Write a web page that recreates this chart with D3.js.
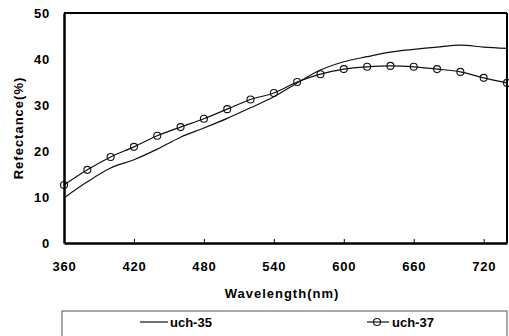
<!DOCTYPE html>
<html>
<head>
<meta charset="utf-8">
<title>Reflectance</title>
<style>
  body { margin: 0; background: #fff; }
  text { font-family: "Liberation Sans", Arial, sans-serif; font-weight: bold; fill: #000; }
</style>
<script src="https://d3js.org/d3.v7.min.js"></script>
</head>
<body>
<svg id="chart" width="509" height="336"></svg>
<script>
// wavelength samples (nm)
var wavelengths = [360, 380, 400, 420, 440, 460, 480, 500, 520, 540, 560, 580, 600, 620, 640, 660, 680, 700, 720, 740];
// uch-35 (plain line)
var uch35 = [9.8, 13.3, 16.3, 18.1, 20.4, 23.0, 25.0, 27.1, 29.4, 31.8, 34.8, 37.6, 39.4, 40.5, 41.5, 42.1, 42.6, 43.0, 42.6, 42.3];
// uch-37 (line with circles)
var uch37 = [12.6, 15.9, 18.7, 20.9, 23.3, 25.2, 27.0, 29.1, 31.2, 32.6, 35.0, 36.7, 37.8, 38.3, 38.5, 38.3, 37.8, 37.2, 35.9, 34.8];
var xTicks = [360, 420, 480, 540, 600, 660, 720];
var yTicks = [0, 10, 20, 30, 40, 50];

var svg = d3.select("#chart");
var x = d3.scaleLinear().domain([360, 740]).range([64, 507]);
var y = d3.scaleLinear().domain([0, 50]).range([243, 13]);

var line35 = d3.line().x(function(d, i){ return x(wavelengths[i]); }).y(function(d){ return y(d); }).curve(d3.curveMonotoneX);

// data lines
svg.append("path").attr("d", line35(uch35))
  .attr("fill", "none").attr("stroke", "#111").attr("stroke-width", 1.2);
svg.append("path").attr("d", line35(uch37))
  .attr("fill", "none").attr("stroke", "#111").attr("stroke-width", 1.2);
svg.selectAll("circle.m").data(uch37).enter().append("circle")
  .attr("class", "m")
  .attr("cx", function(d, i){ return x(wavelengths[i]); })
  .attr("cy", function(d){ return y(d); })
  .attr("r", 3.5)
  .attr("fill", "none").attr("stroke", "#111").attr("stroke-width", 1.1);

// frame
svg.append("line").attr("x1", 64).attr("x2", 507).attr("y1", 13).attr("y2", 13)
  .attr("stroke", "#000").attr("stroke-width", 2);
svg.append("line").attr("x1", 507).attr("x2", 507).attr("y1", 13).attr("y2", 243)
  .attr("stroke", "#000").attr("stroke-width", 2);

// axes
var gx = svg.append("g").attr("transform", "translate(0,243)")
  .call(d3.axisBottom(x).tickValues(xTicks).tickSize(-4).tickSizeOuter(0).tickPadding(19));
gx.select(".domain").attr("stroke-width", 2.5);
gx.selectAll("text").attr("font-size", 13).attr("letter-spacing", 0.8).attr("dy", "0.71em")
  .style("font-family", '"Liberation Sans", Arial, sans-serif').style("font-weight", "bold");

var gy = svg.append("g").attr("transform", "translate(64,0)")
  .call(d3.axisLeft(y).tickValues(yTicks).tickSize(0).tickSizeOuter(0).tickPadding(14));
gy.select(".domain").attr("stroke-width", 2.5);
gy.selectAll("text").attr("font-size", 13).attr("letter-spacing", 0.8)
  .style("font-family", '"Liberation Sans", Arial, sans-serif').style("font-weight", "bold");

// axis titles
svg.append("text").attr("x", 282).attr("y", 298).attr("text-anchor", "middle")
  .attr("font-size", 13).attr("letter-spacing", 1).text("Wavelength(nm)");
svg.append("text").attr("transform", "translate(23,128) rotate(-90)").attr("text-anchor", "middle")
  .attr("font-size", 13).attr("letter-spacing", 1).text("Refectance(%)");

// legend
svg.append("rect").attr("x", 62).attr("y", 311).attr("width", 445).attr("height", 40)
  .attr("fill", "none").attr("stroke", "#555").attr("stroke-width", 1);
svg.append("line").attr("x1", 140).attr("x2", 168).attr("y1", 322).attr("y2", 322)
  .attr("stroke", "#111").attr("stroke-width", 1.2);
svg.append("text").attr("x", 170).attr("y", 327).attr("font-size", 13).text("uch-35");
svg.append("line").attr("x1", 367).attr("x2", 389).attr("y1", 322).attr("y2", 322)
  .attr("stroke", "#111").attr("stroke-width", 1.2);
svg.append("circle").attr("cx", 377).attr("cy", 322).attr("r", 3.5)
  .attr("fill", "none").attr("stroke", "#111").attr("stroke-width", 1.1);
svg.append("text").attr("x", 392).attr("y", 327).attr("font-size", 13).text("uch-37");
</script>
</body>
</html>
